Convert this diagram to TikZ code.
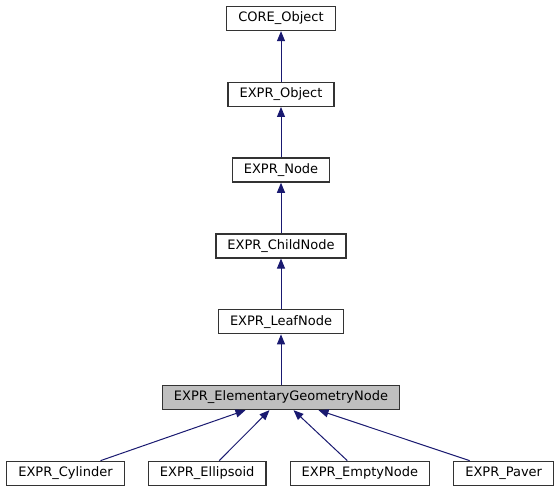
\documentclass[tikz,border=0pt]{standalone}
\usepackage{fontspec}
\newfontfamily\classfont{DejaVu Sans}
\definecolor{edgeblue}{HTML}{191970}
\definecolor{boxline}{HTML}{333333}
\usepackage{tikz}
\usetikzlibrary{arrows.meta,positioning}

\begin{document}
\begin{tikzpicture}[
  node distance=50.5pt and 23pt,
  cls/.style={draw=boxline,line width=1.3pt,fill=white,minimum height=24pt,inner xsep=11.5pt,inner ysep=0pt,
              font={\classfont\fontsize{13}{15}\selectfont}},
  focus/.style={cls,fill=black!25},
  arrow/.style={-{Triangle[width=8pt,length=10pt]},edgeblue,line width=1pt}
]
  \useasboundingbox (0,0) rectangle (556pt,-485pt);

  % inheritance chain
  \node[cls] (core) at (281pt,-18.5pt) {CORE\_Object};
  \node[cls,below=of core] (obj) {EXPR\_Object};
  \node[cls,below=of obj] (node) {EXPR\_Node};
  \node[cls,below=of node] (child) {EXPR\_ChildNode};
  \node[cls,below=of child] (leaf) {EXPR\_LeafNode};
  \node[focus,below=of leaf] (egn) {EXPR\_ElementaryGeometryNode};

  % derived classes
  \node[cls,below left=50.5pt and 14.5pt of egn.south] (ell) {EXPR\_Ellipsoid};
  \node[cls,left=of ell] (cyl) {EXPR\_Cylinder};
  \node[cls,right=of ell] (empty) {EXPR\_EmptyNode};
  \node[cls,right=of empty] (paver) {EXPR\_Paver};

  \draw[arrow] (obj) -- (core);
  \draw[arrow] (node) -- (obj);
  \draw[arrow] (child) -- (node);
  \draw[arrow] (leaf) -- (child);
  \draw[arrow] (egn) -- (leaf);
  \draw[arrow] ([xshift=35pt]cyl.north) -- ([xshift=-35.5pt]egn.south);
  \draw[arrow] ([xshift=12pt]ell.north) -- ([xshift=-11.5pt]egn.south);
  \draw[arrow] ([xshift=-12.5pt]empty.north) -- ([xshift=12.5pt]egn.south);
  \draw[arrow] ([xshift=-34pt]paver.north) -- ([xshift=37.5pt]egn.south);
\end{tikzpicture}
\end{document}
